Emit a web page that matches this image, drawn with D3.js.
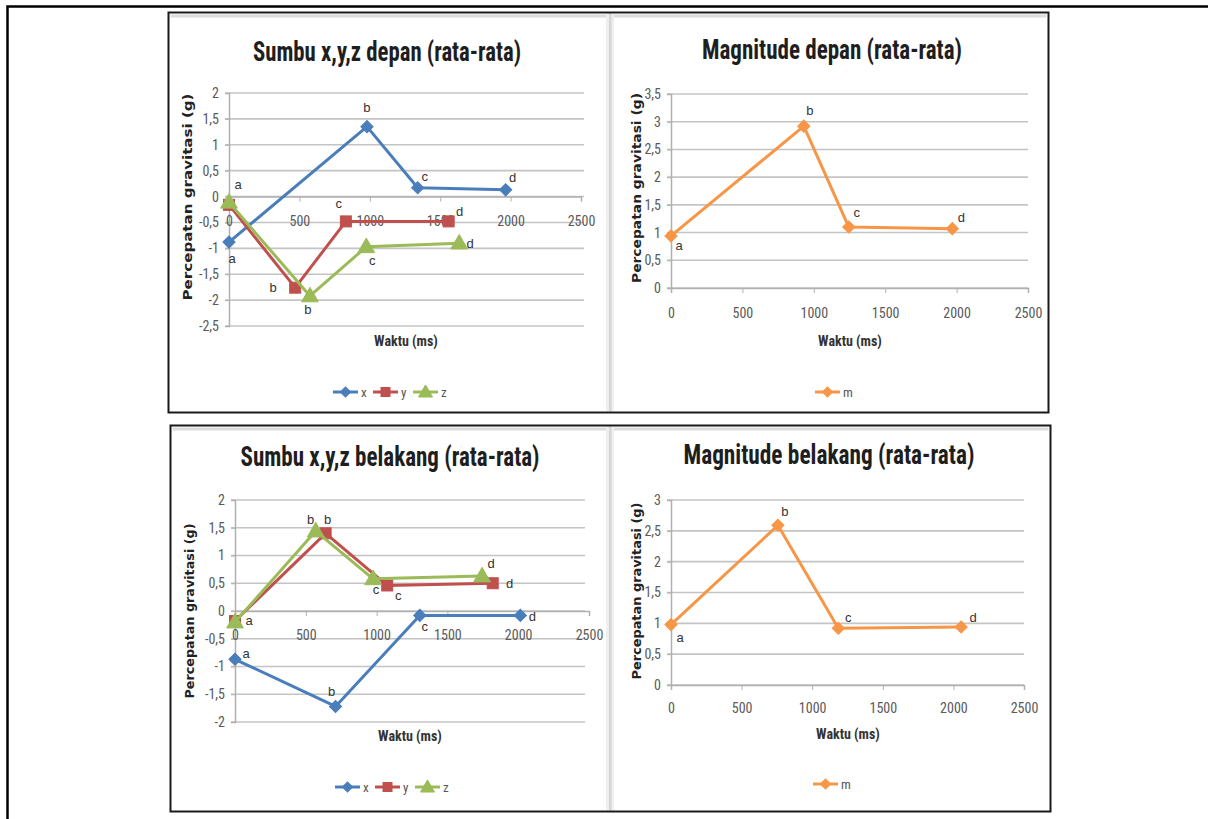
<!DOCTYPE html>
<html><head><meta charset="utf-8">
<script src="https://cdn.jsdelivr.net/npm/d3@7"></script>
<style>
html,body{margin:0;padding:0;background:#fff;}
svg{display:block;}
</style>
</head><body>
<div id="chart"></div>
<script>
// ---------------- DATA ----------------
const chartTitles = ["Sumbu x,y,z depan (rata-rata)", "Magnitude depan (rata-rata)",
                     "Sumbu x,y,z belakang (rata-rata)", "Magnitude belakang (rata-rata)"];
const xAxisTitle = "Waktu (ms)";
const yAxisTitle = "Percepatan gravitasi (g)";
const xTicks = [0, 500, 1000, 1500, 2000, 2500];
const yTicksDepanXYZ = [-2.5, -2, -1.5, -1, -0.5, 0, 0.5, 1, 1.5, 2];
const yTicksDepanM = [0, 0.5, 1, 1.5, 2, 2.5, 3, 3.5];
const yTicksBelakangXYZ = [-2, -1.5, -1, -0.5, 0, 0.5, 1, 1.5, 2];
const yTicksBelakangM = [0, 0.5, 1, 1.5, 2, 2.5, 3];
const seriesNames = ["x", "y", "z"];
const magName = "m";

const depanXTime = [0, 980, 1340, 1965];
const depanXVal  = [-0.88, 1.35, 0.17, 0.13];
const depanXLab  = ["a", "b", "c", "d"];
const depanYTime = [0, 470, 830, 1560];
const depanYVal  = [-0.16, -1.76, -0.48, -0.48];
const depanYLab  = ["a", "b", "c", "d"];
const depanZTime = [0, 575, 975, 1635];
const depanZVal  = [-0.11, -1.92, -0.97, -0.9];
const depanZLab  = ["", "b", "c", "d"];
const depanMTime = [0, 930, 1245, 1970];
const depanMVal  = [0.94, 2.92, 1.1, 1.07];
const depanMLab  = ["a", "b", "c", "d"];

const belakangXTime = [0, 710, 1305, 2015];
const belakangXVal  = [-0.87, -1.72, -0.08, -0.08];
const belakangXLab  = ["a", "b", "c", "d"];
const belakangYTime = [0, 640, 1075, 1820];
const belakangYVal  = [-0.18, 1.4, 0.46, 0.5];
const belakangYLab  = ["a", "b", "c", "d"];
const belakangZTime = [0, 570, 975, 1745];
const belakangZVal  = [-0.2, 1.44, 0.58, 0.63];
const belakangZLab  = ["", "b", "c", "d"];
const belakangMTime = [0, 757, 1185, 2055];
const belakangMVal  = [0.98, 2.59, 0.92, 0.94];
const belakangMLab  = ["a", "b", "c", "d"];

// ---------------- STYLE / LAYOUT ----------------
const COL = {x: "#4A7EBB", y: "#C0504D", z: "#9BBB59", m: "#F79646"};
const SHAPE = {x: "diamond", y: "square", z: "triangle", m: "diamond"};
const NARROW = "'Liberation Sans Narrow','Arial Narrow','Roboto Condensed','Liberation Sans',sans-serif";
const fmt = v => String(v).replace(".", ",");
const zip = (t, v, l) => t.map((d, i) => ({t: d, v: v[i], l: l[i]}));

const W = 1208, H = 819;
const svg = d3.select("#chart").append("svg").attr("width", W).attr("height", H);

// outer frame
svg.append("path").attr("d", "M7.5,819 L7.5,6.5 L1208,6.5").attr("fill", "none")
  .attr("stroke", "#000").attr("stroke-width", 2.5);

// panel frames
function panel(x0, y0, x1, y1) {
  svg.append("rect").attr("x", x0 + 2).attr("y", y0 + 2).attr("width", x1 - x0 - 4).attr("height", 3)
    .attr("fill", "#dcdcdc");
  svg.append("rect").attr("x", 606).attr("y", y0 + 1).attr("width", 8).attr("height", y1 - y0 - 2)
    .attr("fill", "#efefef");
  svg.append("rect").attr("x", 609).attr("y", y0 + 1).attr("width", 2.5).attr("height", y1 - y0 - 2)
    .attr("fill", "#d6d6d6");
  svg.append("rect").attr("x", x0).attr("y", y0).attr("width", x1 - x0).attr("height", y1 - y0)
    .attr("fill", "none").attr("stroke", "#1a1a1a").attr("stroke-width", 2);
}
panel(168.5, 12.5, 1048.5, 412.5);
panel(170.5, 425.5, 1050.5, 811.5);

function marker(g, shape, color, cx, cy, s) {
  if (shape === "diamond") {
    g.append("rect").attr("x", -s * 0.36).attr("y", -s * 0.36).attr("width", s * 0.72).attr("height", s * 0.72)
      .attr("transform", `translate(${cx},${cy}) rotate(45)`).attr("fill", color).attr("stroke", color);
  } else if (shape === "square") {
    g.append("rect").attr("x", cx - s / 2).attr("y", cy - s / 2).attr("width", s).attr("height", s)
      .attr("fill", color).attr("stroke", color);
  } else {
    g.append("path").attr("d", d3.symbol().type(d3.symbolTriangle).size(s * s * 0.85)())
      .attr("transform", `translate(${cx},${cy + 1})`).attr("fill", color).attr("stroke", color);
  }
}

function drawChart(c) {
  const g = svg.append("g");
  const x = d3.scaleLinear().domain([0, 2500]).range([c.x0, c.x1]);
  const y = d3.scaleLinear().domain([c.yTicks[0], c.yTicks[c.yTicks.length - 1]]).range([c.yb, c.yt]);

  // title
  g.append("text").attr("x", c.titleX).attr("y", c.titleY).attr("text-anchor", "middle")
    .attr("font-family", NARROW).attr("font-weight", "bold").attr("font-size", 27)
    .attr("fill", "#1e1e1e").attr("textLength", c.titleLen).attr("lengthAdjust", "spacingAndGlyphs")
    .text(c.title);

  // gridlines
  g.append("g").selectAll("line").data(c.yTicks).join("line")
    .attr("x1", c.x0 - 4).attr("x2", c.gridRight).attr("y1", d => y(d)).attr("y2", d => y(d))
    .attr("stroke", "#c4c4c4").attr("stroke-width", 1.6);

  // y axis
  const ya = g.append("g").attr("transform", `translate(${c.x0},0)`)
    .call(d3.axisLeft(y).tickValues(c.yTicks).tickFormat(fmt).tickSize(4).tickPadding(6));
  ya.select(".domain").attr("stroke", "#b0b0b0").attr("stroke-width", 1.5);
  ya.selectAll(".tick line").attr("stroke", "#b0b0b0");
  ya.selectAll("text").attr("font-family", NARROW).attr("font-size", 14).attr("fill", "#5a5a5a");

  // x axis at y=0
  const xa = g.append("g").attr("transform", `translate(0,${y(0)})`)
    .call(d3.axisBottom(x).tickValues(xTicks).tickFormat(d => d).tickSize(5).tickPadding(c.xPad));
  xa.select(".domain").attr("stroke", "#b0b0b0").attr("stroke-width", 1.5);
  xa.selectAll(".tick line").attr("stroke", "#b0b0b0");
  xa.selectAll("text").attr("font-family", NARROW).attr("font-size", 14).attr("fill", "#5a5a5a");

  // axis titles
  g.append("text").attr("x", c.xTitleX).attr("y", c.xTitleY).attr("text-anchor", "middle")
    .attr("font-family", NARROW).attr("font-weight", "bold").attr("font-size", 14).attr("fill", "#333")
    .text(xAxisTitle);
  g.append("text").attr("transform", `translate(${c.yTitleX},${c.yTitleY}) rotate(-90)`)
    .attr("text-anchor", "middle").attr("font-family", "'DejaVu Sans',sans-serif").attr("font-weight", "bold")
    .attr("font-size", 11.5).attr("fill", "#222").attr("textLength", c.yTitleLen).attr("lengthAdjust", "spacingAndGlyphs")
    .text(yAxisTitle);

  // series
  const line = d3.line().x(d => x(d.t)).y(d => y(d.v));
  c.series.forEach(s => {
    g.append("path").datum(s.data).attr("d", line).attr("fill", "none").attr("stroke", COL[s.key])
      .attr("stroke-width", 3).attr("stroke-linejoin", "round");
    s.data.forEach(d => marker(g, SHAPE[s.key], COL[s.key], x(d.t), y(d.v), s.key === "y" ? 11 : 12));
  });
  c.series.forEach(s => {
    s.data.forEach((d, i) => {
      if (!d.l) return;
      g.append("text").attr("x", x(d.t) + s.off[i][0]).attr("y", y(d.v) + s.off[i][1])
        .attr("text-anchor", "middle").attr("dominant-baseline", "central")
        .attr("font-family", "'Liberation Sans',Arial,sans-serif").attr("font-size", 13).attr("fill", "#333")
        .text(d.l);
    });
  });

  // legend
  let lx = c.legendX;
  c.series.forEach(s => {
    g.append("line").attr("x1", lx).attr("x2", lx + 25).attr("y1", c.legendY).attr("y2", c.legendY)
      .attr("stroke", COL[s.key]).attr("stroke-width", 3);
    marker(g, SHAPE[s.key], COL[s.key], lx + 12.5, c.legendY, s.key === "y" ? 9 : 10);
    g.append("text").attr("x", lx + 28).attr("y", c.legendY).attr("dominant-baseline", "central")
      .attr("font-family", NARROW).attr("font-size", 13).attr("fill", "#555").text(s.name);
    lx += c.legendStep;
  });
}

const charts = [
  {title: chartTitles[0], titleX: 387, titleY: 61, titleLen: 268,
   x0: 229, x1: 581, gridRight: 584, yTicks: yTicksDepanXYZ, yb: 326, yt: 93, xPad: 15,
   xTitleX: 406, xTitleY: 346, yTitleX: 192, yTitleY: 197, yTitleLen: 207,
   legendX: 333, legendY: 392, legendStep: 40,
   series: [
     {key: "x", name: seriesNames[0], data: zip(depanXTime, depanXVal, depanXLab), off: [[3, 16], [0, -19], [7, -11], [7, -12]]},
     {key: "y", name: seriesNames[1], data: zip(depanYTime, depanYVal, depanYLab), off: [[9, -20], [-22, 0], [-7, -18], [11, -10]]},
     {key: "z", name: seriesNames[2], data: zip(depanZTime, depanZVal, depanZLab), off: [[0, 0], [-2, 14], [6, 14], [11, 0]]}
   ]},
  {title: chartTitles[1], titleX: 832, titleY: 59, titleLen: 260,
   x0: 671, x1: 1028, gridRight: 1028, yTicks: yTicksDepanM, yb: 288, yt: 94, xPad: 15,
   xTitleX: 850, xTitleY: 346, yTitleX: 641, yTitleY: 188, yTitleLen: 190,
   legendX: 815, legendY: 392, legendStep: 40,
   series: [
     {key: "m", name: magName, data: zip(depanMTime, depanMVal, depanMLab), off: [[8, 10], [6, -16], [8, -15], [9, -11]]}
   ]},
  {title: chartTitles[2], titleX: 390, titleY: 466, titleLen: 299,
   x0: 235, x1: 589, gridRight: 585, yTicks: yTicksBelakangXYZ, yb: 722, yt: 500, xPad: 14,
   xTitleX: 410, xTitleY: 741, yTitleX: 194, yTitleY: 611, yTitleLen: 175,
   legendX: 335, legendY: 787, legendStep: 40,
   series: [
     {key: "x", name: seriesNames[0], data: zip(belakangXTime, belakangXVal, belakangXLab), off: [[11, -6], [-4, -15], [5, 11], [12, 1]]},
     {key: "y", name: seriesNames[1], data: zip(belakangYTime, belakangYVal, belakangYLab), off: [[14, 0], [2, -14], [11, 10], [17, 0]]},
     {key: "z", name: seriesNames[2], data: zip(belakangZTime, belakangZVal, belakangZLab), off: [[0, 0], [-5, -12], [3, 11], [9, -13]]}
   ]},
  {title: chartTitles[3], titleX: 829, titleY: 464, titleLen: 291,
   x0: 671, x1: 1024, gridRight: 1024, yTicks: yTicksBelakangM, yb: 685, yt: 500, xPad: 13,
   xTitleX: 848, xTitleY: 739, yTitleX: 641, yTitleY: 591, yTitleLen: 177,
   legendX: 813, legendY: 784, legendStep: 40,
   series: [
     {key: "m", name: magName, data: zip(belakangMTime, belakangMVal, belakangMLab), off: [[9, 13], [7, -14], [10, -11], [12, -10]]}
   ]}
];
charts.forEach(drawChart);
</script>
</body></html>
